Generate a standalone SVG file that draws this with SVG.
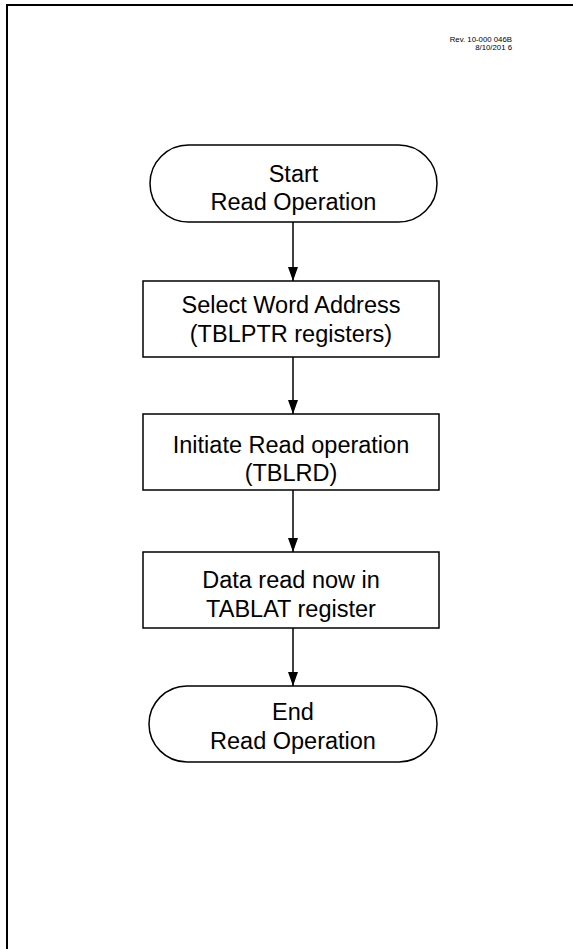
<svg xmlns="http://www.w3.org/2000/svg" width="573" height="949" viewBox="0 0 573 949">
<style>
.shape{fill:#fff;stroke:#000;stroke-width:1.5}
.t{font-family:"Liberation Sans",Arial,sans-serif;font-size:23.5px;fill:#000;text-anchor:middle}
.rev{font-family:"Liberation Sans",Arial,sans-serif;font-size:7.8px;fill:#000;text-anchor:end}
.conn{stroke:#000;stroke-width:1.5;fill:none}
</style>
<defs>
<marker id="ah" markerWidth="14" markerHeight="10" refX="14" refY="5" orient="auto" markerUnits="userSpaceOnUse" viewBox="0 0 14 10">
<path d="M0,0 L14,5 L0,10 Z" fill="#000"/>
</marker>
</defs>
<rect width="573" height="949" fill="#fff"/>
<path d="M7,949 V5 H573" fill="none" stroke="#000" stroke-width="2"/>
<g id="rev">
<text class="rev" x="512" y="42">Rev. 10-000 046B</text>
<text class="rev" x="512" y="50">8/10/201 6</text>
</g>
<g id="start">
<rect class="shape" x="150" y="145" width="287" height="77" rx="38.5" ry="38.5"/>
<text class="t" x="293.5" y="182">Start</text>
<text class="t" x="293.5" y="210">Read Operation</text>
</g>
<g id="select">
<rect class="shape" x="143" y="281" width="296" height="76"/>
<text class="t" x="291" y="313">Select Word Address</text>
<text class="t" x="291" y="342">(TBLPTR registers)</text>
</g>
<g id="initiate">
<rect class="shape" x="143" y="414" width="296" height="76"/>
<text class="t" x="291" y="453">Initiate Read operation</text>
<text class="t" x="291" y="481">(TBLRD)</text>
</g>
<g id="data">
<rect class="shape" x="143" y="552" width="296" height="76"/>
<text class="t" x="291" y="588">Data read now in</text>
<text class="t" x="291" y="617">TABLAT register</text>
</g>
<g id="end">
<rect class="shape" x="149" y="686" width="288" height="76" rx="38" ry="38"/>
<text class="t" x="293" y="720">End</text>
<text class="t" x="293" y="749">Read Operation</text>
</g>
<g id="connectors">
<line class="conn" x1="293" y1="222" x2="293" y2="281" marker-end="url(#ah)"/>
<line class="conn" x1="293" y1="357" x2="293" y2="414" marker-end="url(#ah)"/>
<line class="conn" x1="293" y1="490" x2="293" y2="552" marker-end="url(#ah)"/>
<line class="conn" x1="293" y1="628" x2="293" y2="686" marker-end="url(#ah)"/>
</g>
</svg>
